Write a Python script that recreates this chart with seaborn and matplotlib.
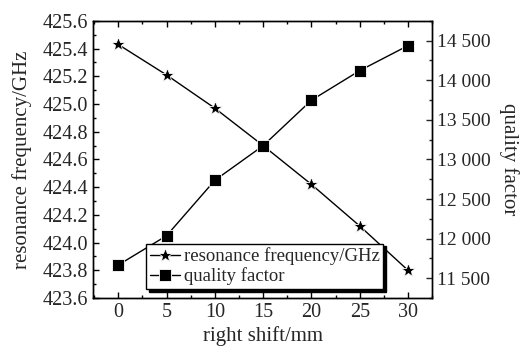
import numpy as np
import pandas as pd
import matplotlib
matplotlib.use('Agg')
import matplotlib.pyplot as plt
import matplotlib.ticker as mticker
import seaborn as sns

sns.set_style('ticks')
plt.rcParams['font.family'] = ['Liberation Serif', 'DejaVu Serif']

# data
shift = [0, 5, 10, 15, 20, 25, 30]
freq = [425.43, 425.21, 424.97, 424.70, 424.42, 424.12, 423.80]
qfactor = [11667, 12037, 12737, 13174, 13748, 14122, 14438]

df = pd.DataFrame({'shift': shift, 'freq': freq, 'q': qfactor})

fig = plt.figure(figsize=(5.29, 3.54), dpi=100)
ax = fig.add_axes([0.176, 0.158, 0.641, 0.783])
ax2 = ax.twinx()

sns.lineplot(data=df, x='shift', y='freq', ax=ax, color='black', lw=1,
             marker='*', markersize=10, markeredgecolor='white', markeredgewidth=0.6,
             label='resonance frequency/GHz', legend=False)
sns.lineplot(data=df, x='shift', y='q', ax=ax2, color='black', lw=1,
             marker='s', markersize=8, markeredgecolor='white', markeredgewidth=0.6,
             label='quality factor', legend=False)

ax.set_xlim(-2.6, 32.5)
ax.set_ylim(423.6, 425.6)
ax2.set_ylim(11250, 14750)

ax.set_xticks(shift)
ax.xaxis.set_minor_locator(mticker.MultipleLocator(2.5))
ax.set_yticks(np.arange(423.6, 425.61, 0.2))
ax.yaxis.set_major_formatter(mticker.FormatStrFormatter('%.1f'))
ax.yaxis.set_minor_locator(mticker.MultipleLocator(0.1))
ax2.set_yticks(np.arange(11500, 14501, 500))
ax2.yaxis.set_major_formatter(mticker.FuncFormatter(lambda v, p: f'{int(v):,}'.replace(',', ' ')))
ax2.yaxis.set_minor_locator(mticker.MultipleLocator(250))

ax.tick_params(axis='both', which='both', direction='in', labelsize=14.5, color='black')
ax.tick_params(which='major', length=4, width=1)
ax.tick_params(which='minor', length=2.5, width=1)
ax.tick_params(axis='x', top=True, which='both')
ax.tick_params(axis='y', right=False, which='both')
ax2.tick_params(axis='y', which='both', direction='in', labelsize=14)
ax2.tick_params(which='major', length=4, width=1)
ax2.tick_params(which='minor', length=2.5, width=1)

for a in (ax, ax2):
    for s in a.spines.values():
        s.set_color('black')
        s.set_linewidth(1)

ax.set_xlabel('right shift/mm', fontsize=15, labelpad=3)
ax.set_ylabel('resonance frequency/GHz', fontsize=15, labelpad=8)
ax2.set_ylabel('quality factor', fontsize=15, rotation=270, labelpad=20)

h1, l1 = ax.get_legend_handles_labels()
h2, l2 = ax2.get_legend_handles_labels()
leg = ax2.legend(h1 + h2, l1 + l2, loc='lower left', bbox_to_anchor=(0.156, 0.032),
                 borderaxespad=0, fontsize=13.5, handlelength=1.6, handletextpad=0.2,
                 labelspacing=0.12, borderpad=0.2, fancybox=False, framealpha=1,
                 edgecolor='black',
                 shadow={'ox': 2, 'oy': -2, 'color': 'black', 'alpha': 1})
leg.get_frame().set_linewidth(1)

fig.savefig('out.png', dpi=100)
